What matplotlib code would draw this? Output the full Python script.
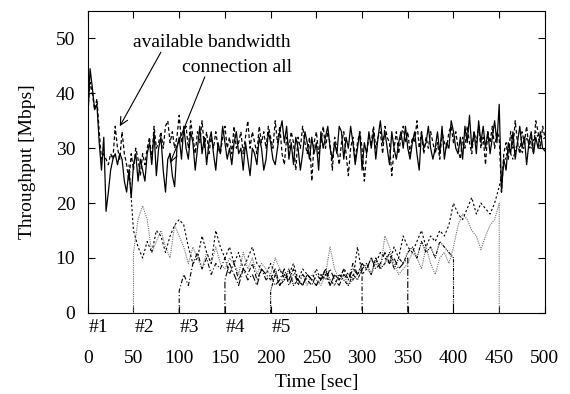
import numpy as np
import matplotlib
matplotlib.use('Agg')
import matplotlib.pyplot as plt

plt.rcParams['font.family'] = ['Liberation Serif', 'DejaVu Serif']
plt.rcParams['font.size'] = 14

# top lines, sampled every 2.5 s from 0 to 500
conn_all = [
    35, 44.5, 41, 37, 38, 31, 26, 32, 18.5, 22, 26, 28, 29, 27, 29, 28,
    24, 22, 26, 21, 27, 29, 24, 28, 26, 24, 29, 31, 27, 33, 25, 30,
    32, 26, 22, 28, 29, 25, 23, 30, 32, 28, 34, 30, 28, 33, 31, 26,
    30, 34, 29, 32, 27, 31, 33, 29, 26, 31, 29, 34, 31, 28, 30, 27,
    31, 33, 29, 30, 26, 31, 28, 25, 30, 29, 27, 32, 30, 26, 28, 33,
    31, 28, 27, 30, 33, 35, 31, 34, 28, 31, 27, 32, 30, 26, 29, 33,
    31, 28, 32, 29, 31, 26, 33, 30, 32, 34, 30, 28, 31, 29, 34, 33,
    28, 32, 30, 34, 31, 27, 30, 33, 26, 31, 29, 33, 30, 33, 28, 32,
    35, 31, 33, 30, 27, 33, 30, 28, 31, 33, 30, 34, 30, 28, 31, 33,
    29, 26, 33, 30, 31, 34, 30, 28, 30, 33, 29, 34, 28, 31, 30, 35,
    33, 30, 29, 32, 28, 34, 31, 36, 30, 33, 29, 35, 31, 34, 30, 33,
    29, 32, 35, 31, 38, 22, 28, 26, 31, 29, 33, 28, 31, 34, 30, 32,
    27, 31, 33, 29, 32, 30, 33, 30, 29.5]
avail_bw = [
    37, 42, 40, 37, 39, 33, 28, 29, 28, 27, 29, 28, 34, 30, 28, 33,
    29, 27, 24, 29, 26, 30, 28, 25, 29, 27, 30, 32, 28, 34, 30, 31,
    33, 30, 34, 35, 31, 33, 30, 32, 36, 31, 33, 34, 30, 35, 32, 29,
    33, 31, 35, 30, 33, 29, 32, 30, 33, 30, 29, 32, 34, 30, 32, 29,
    34, 30, 31, 33, 29, 32, 35, 30, 33, 31, 29, 34, 31, 33, 30, 34,
    32, 30, 35, 31, 34, 29, 27, 32, 30, 33, 31, 26, 32, 30, 34, 31,
    29, 32, 24, 31, 33, 29, 31, 34, 30, 33, 31, 26, 32, 30, 27, 31,
    33, 29, 25, 30, 32, 28, 31, 33, 30, 24, 29, 32, 31, 34, 30, 32,
    33, 29, 34, 32, 31, 25, 30, 33, 29, 32, 34, 31, 33, 29, 32, 31,
    35, 30, 33, 29, 32, 30, 33, 31, 29, 31, 28, 33, 31, 30, 33, 34,
    31, 33, 30, 28, 32, 30, 34, 31, 29, 33, 31, 34, 30, 32, 27, 33,
    31, 34, 30, 33, 32, 22, 29, 31, 28, 33, 30, 35, 31, 29, 33, 31,
    34, 30, 32, 29, 35, 33, 30, 34, 32]

# individual connections, sampled every 5 s
conn_a = [  # 50 .. 450
    11, 17, 19.5, 17, 11, 13, 15, 12, 10, 16,
    14, 12, 9, 12, 10, 8, 11, 9, 12, 9,
    8, 10, 9, 7, 11, 8, 10, 7, 9, 8,
    7, 10, 8, 7, 6, 8, 6, 7, 5, 7,
    6, 5, 7, 12, 8, 6, 7, 5, 6, 7,
    9, 8, 7, 9, 8, 14, 12, 9, 7, 8,
    9, 11, 10, 8, 12, 9, 7, 10, 11, 9,
    12, 16, 18, 17, 15, 14, 11.5, 14, 16, 17, 20]
conn_b = [  # 100 .. 300
    4, 7, 5, 9, 11, 8, 10, 7, 9, 8,
    10, 7, 9, 6, 8, 7, 9, 6, 8, 7,
    6, 8, 5, 7, 6, 8, 5, 7, 6, 5,
    7, 6, 8, 5, 7, 6, 8, 6, 9, 7, 8]
conn_c = [  # 150 .. 350
    6, 9, 7, 5, 8, 6, 7, 5, 8, 6,
    7, 5, 6, 8, 5, 7, 6, 5, 7, 6,
    5, 7, 6, 8, 6, 5, 7, 6, 8, 7,
    9, 8, 10, 8, 9, 11, 9, 10, 8, 9, 10]
conn_d = [  # 200 .. 400
    4, 7, 5, 6, 8, 5, 6, 5, 7, 6,
    5, 6, 8, 6, 5, 7, 6, 5, 7, 6,
    8, 9, 7, 10, 8, 9, 11, 8, 10, 9,
    11, 12, 10, 13, 11, 12, 10, 13, 12, 11, 10]
conn_e = [  # 45 .. 500
    27, 15, 12, 10, 13, 11, 15, 14, 11, 14, 16,
    17, 16, 12, 9, 10, 14, 11, 9, 15, 12,
    10, 12, 9, 11, 8, 10, 12, 9, 8, 7,
    9, 7, 8, 6, 7, 9, 6, 8, 7, 6,
    8, 6, 7, 5, 7, 6, 8, 7, 6, 12,
    7, 8, 10, 9, 11, 10, 9, 12, 10, 14,
    12, 11, 13, 15, 12, 14, 13, 15, 14, 16,
    20, 18, 17, 19, 21, 18, 20, 19, 18, 20,
    23, 27, 30, 28, 31, 29, 32, 30, 33, 31, 32]

xticks = [0, 50, 100, 150, 200, 250, 300, 350, 400, 450, 500]
yticks = [0, 10, 20, 30, 40, 50]
start_labels = ['#1', '#2', '#3', '#4', '#5']
start_times = [0, 50, 100, 150, 200]


def series(start, end, vals, drop_start=True, drop_end=True):
    t = np.linspace(start, end, len(vals))
    v = np.asarray(vals, dtype=float)
    if drop_start:
        t = np.r_[start, t]
        v = np.r_[0, v]
    if drop_end:
        t = np.r_[t, end]
        v = np.r_[v, 0]
    return t, v


fig = plt.figure(figsize=(5.7, 3.94), dpi=100)
ax = fig.add_axes([0.154, 0.206, 0.802, 0.766])

t_top = np.linspace(0, 500, len(conn_all))
ax.plot(t_top, avail_bw, color='black', lw=0.9, ls=(0, (3, 2)))
ax.plot(t_top, conn_all, color='black', lw=0.9)

t, v = series(50, 450, conn_a)
ax.plot(t, v, color='0.45', lw=0.8, ls=(0, (1, 1)))
t, v = series(100, 300, conn_b)
ax.plot(t, v, color='black', lw=0.8, ls=(0, (4, 2, 1, 2)))
t, v = series(150, 350, conn_c)
ax.plot(t, v, color='black', lw=0.8, ls=(0, (6, 2, 1, 2)))
t, v = series(200, 400, conn_d)
ax.plot(t, v, color='black', lw=0.8, ls=(0, (3, 1, 1, 1, 1, 1)))
t, v = series(45, 500, conn_e, drop_start=False, drop_end=False)
ax.plot(t, v, color='black', lw=0.8, ls=(0, (2, 2)))

# labels and their arrows
ax.text(136, 49.3, 'available bandwidth', ha='center', va='center')
ax.annotate('', xy=(35, 34), xytext=(80, 47.5),
            arrowprops=dict(arrowstyle='->', color='black', lw=0.8,
                            shrinkA=0, shrinkB=0))
ax.text(163, 44.7, 'connection all', ha='center', va='center')
ax.annotate('', xy=(90, 27.3), xytext=(128, 43),
            arrowprops=dict(arrowstyle='->', color='black', lw=0.8,
                            shrinkA=0, shrinkB=0))

for lab, ts in zip(start_labels, start_times):
    ax.text(ts + 1, -2.7, lab, ha='left', va='center', clip_on=False)

ax.set_xlim(0, 500)
ax.set_ylim(0, 55)
ax.set_xticks(xticks)
ax.set_yticks(yticks)
ax.tick_params(direction='in', top=True, right=True, length=5, width=0.8)
ax.tick_params(axis='x', pad=27)
ax.tick_params(axis='y', pad=9)
ax.set_xlabel('Time [sec]', labelpad=5)
ax.set_ylabel('Throughput [Mbps]', labelpad=14)

fig.savefig('out.png', dpi=100)
